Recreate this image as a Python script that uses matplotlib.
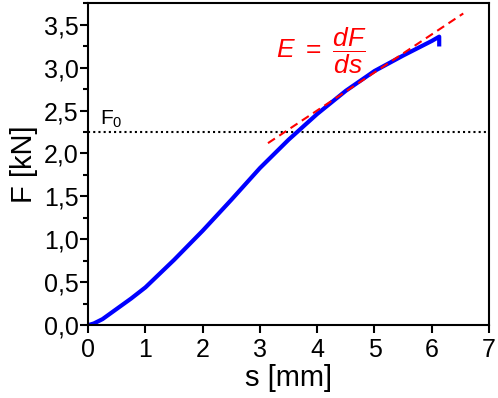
import matplotlib
matplotlib.use('Agg')
from matplotlib import pyplot as plt
from matplotlib.ticker import MultipleLocator, FuncFormatter
import numpy as np

# force-displacement curve
s_mm = [0.0, 0.1, 0.25, 0.5, 0.75, 1.0, 1.5, 2.0, 2.5, 3.0, 3.5, 4.0, 4.5, 5.0, 5.5, 6.0, 6.13, 6.13]
F_kN = [0.0, 0.02, 0.07, 0.19, 0.31, 0.44, 0.76, 1.10, 1.46, 1.83, 2.16, 2.46, 2.73, 2.96, 3.14, 3.31, 3.36, 3.27]

# tangent (stiffness) line
tan_s = [3.14, 6.55]
tan_F = [2.12, 3.63]

F0 = 2.25

plt.rcParams['font.family'] = ['Liberation Sans', 'DejaVu Sans']
plt.rcParams['mathtext.fontset'] = 'custom'
plt.rcParams['mathtext.rm'] = 'Liberation Sans'
plt.rcParams['mathtext.it'] = 'Liberation Sans:italic'

fig = plt.figure(figsize=(4.98, 3.98), dpi=100)
ax = fig.add_axes([0.177, 0.183, 0.805, 0.809])

ax.axhline(F0, color='black', ls=(0, (1, 1.5)), lw=1.5)
ax.plot(s_mm, F_kN, color='#0000ff', lw=3, solid_joinstyle='round')
ax.plot(tan_s, tan_F, color='#ff0000', ls=(0, (4, 2.5)), lw=1.5)

ax.text(0.2, 2.33, r'F$_0$', fontsize=15)
ax.text(3.28, 3.2, r'$E\ =\ \dfrac{dF}{ds}$', color='#ff0000', fontsize=19, va='center')

ax.set_xlim(0, 7)
ax.set_ylim(0, 3.75)
ax.xaxis.set_major_locator(MultipleLocator(1))
ax.yaxis.set_major_locator(MultipleLocator(0.5))
ax.yaxis.set_minor_locator(MultipleLocator(0.25))
ax.yaxis.set_major_formatter(FuncFormatter(lambda v, p: ('%.1f' % v).replace('.', ',')))
ax.tick_params(which='major', direction='out', length=6, width=1.5, labelsize=18)
ax.tick_params(axis='y', which='major', pad=1)
ax.tick_params(axis='x', which='major', pad=3)
ax.tick_params(which='minor', direction='out', length=3.5, width=1.5)
for sp in ax.spines.values():
    sp.set_linewidth(1.5)

ax.set_xlabel('s [mm]', fontsize=21, labelpad=2)
ax.set_ylabel('F [kN]', fontsize=21, labelpad=4)

fig.savefig('out.png', dpi=100)
